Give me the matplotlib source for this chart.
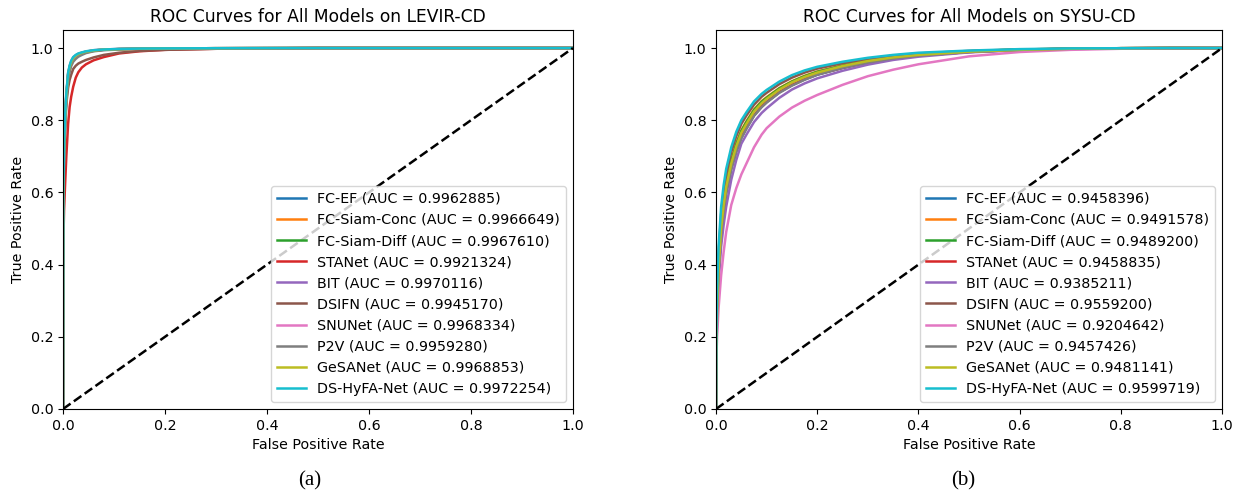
import matplotlib
matplotlib.use("Agg")
import matplotlib.pyplot as plt

plt.rcParams["font.size"] = 10.3

# model names and AUC values read from the legends
models = ["FC-EF", "FC-Siam-Conc", "FC-Siam-Diff", "STANet", "BIT",
          "DSIFN", "SNUNet", "P2V", "GeSANet", "DS-HyFA-Net"]
auc_levir = ["0.9962885", "0.9966649", "0.9967610", "0.9921324", "0.9970116",
             "0.9945170", "0.9968334", "0.9959280", "0.9968853", "0.9972254"]
auc_sysu = ["0.9458396", "0.9491578", "0.9489200", "0.9458835", "0.9385211",
            "0.9559200", "0.9204642", "0.9457426", "0.9481141", "0.9599719"]

# LEVIR-CD curves
fpr_levir = [0, 0.0005, 0.002, 0.004, 0.0065, 0.01, 0.013, 0.016, 0.02, 0.025,
             0.03, 0.037, 0.045, 0.06, 0.08, 0.11, 0.15, 0.2, 0.3, 0.5, 1.0]
tpr_levir = {
    "FC-EF":        [0, 0.58, 0.70, 0.79, 0.860, 0.920, 0.940, 0.955, 0.968, 0.975, 0.980, 0.984, 0.988, 0.992, 0.995, 0.997, 0.998, 0.999, 0.9995, 1.0, 1.0],
    "FC-Siam-Conc": [0, 0.59, 0.71, 0.80, 0.865, 0.925, 0.945, 0.959, 0.971, 0.977, 0.982, 0.986, 0.989, 0.993, 0.9955, 0.997, 0.998, 0.999, 0.9995, 1.0, 1.0],
    "FC-Siam-Diff": [0, 0.59, 0.71, 0.80, 0.867, 0.926, 0.946, 0.960, 0.972, 0.978, 0.982, 0.986, 0.989, 0.993, 0.9955, 0.997, 0.998, 0.999, 0.9995, 1.0, 1.0],
    "STANet":       [0, 0.45, 0.55, 0.62, 0.700, 0.790, 0.837, 0.865, 0.893, 0.918, 0.933, 0.946, 0.955, 0.966, 0.975, 0.985, 0.991, 0.995, 0.998, 1.0, 1.0],
    "BIT":          [0, 0.60, 0.72, 0.81, 0.872, 0.930, 0.950, 0.963, 0.974, 0.980, 0.984, 0.987, 0.990, 0.994, 0.996, 0.9975, 0.9985, 0.999, 0.9995, 1.0, 1.0],
    "DSIFN":        [0, 0.57, 0.69, 0.78, 0.845, 0.890, 0.912, 0.926, 0.942, 0.951, 0.957, 0.962, 0.967, 0.974, 0.981, 0.987, 0.992, 0.995, 0.998, 1.0, 1.0],
    "SNUNet":       [0, 0.59, 0.71, 0.80, 0.868, 0.927, 0.947, 0.960, 0.972, 0.978, 0.983, 0.987, 0.990, 0.993, 0.996, 0.997, 0.998, 0.999, 0.9995, 1.0, 1.0],
    "P2V":          [0, 0.57, 0.69, 0.78, 0.852, 0.912, 0.934, 0.950, 0.962, 0.970, 0.976, 0.981, 0.986, 0.991, 0.994, 0.996, 0.998, 0.999, 0.9995, 1.0, 1.0],
    "GeSANet":      [0, 0.59, 0.71, 0.80, 0.868, 0.928, 0.948, 0.961, 0.972, 0.979, 0.983, 0.987, 0.990, 0.993, 0.996, 0.997, 0.998, 0.999, 0.9995, 1.0, 1.0],
    "DS-HyFA-Net":  [0, 0.60, 0.72, 0.81, 0.875, 0.932, 0.952, 0.965, 0.975, 0.981, 0.985, 0.988, 0.991, 0.994, 0.996, 0.9975, 0.9985, 0.999, 0.9995, 1.0, 1.0],
}

# SYSU-CD curves
fpr_sysu = [0, 0.0005, 0.002, 0.005, 0.01, 0.015, 0.02, 0.03, 0.04, 0.05,
            0.06, 0.075, 0.09, 0.1, 0.125, 0.15, 0.175, 0.2, 0.25, 0.3,
            0.35, 0.4, 0.5, 0.6, 0.7, 0.8, 0.9, 1.0]
tpr_sysu = {
    "FC-EF":        [0, 0.16, 0.27, 0.38, 0.485, 0.550, 0.600, 0.666, 0.715, 0.752, 0.778, 0.813, 0.837, 0.850, 0.877, 0.897, 0.913, 0.926, 0.945, 0.960, 0.971, 0.979, 0.989, 0.995, 0.998, 0.9995, 1.0, 1.0],
    "FC-Siam-Conc": [0, 0.17, 0.285, 0.40, 0.510, 0.575, 0.625, 0.690, 0.737, 0.772, 0.797, 0.830, 0.853, 0.864, 0.889, 0.908, 0.923, 0.935, 0.952, 0.966, 0.975, 0.982, 0.991, 0.996, 0.998, 0.9995, 1.0, 1.0],
    "FC-Siam-Diff": [0, 0.17, 0.28, 0.395, 0.505, 0.570, 0.620, 0.686, 0.733, 0.770, 0.795, 0.828, 0.851, 0.862, 0.888, 0.907, 0.922, 0.934, 0.951, 0.965, 0.975, 0.982, 0.991, 0.996, 0.998, 0.9995, 1.0, 1.0],
    "STANet":       [0, 0.16, 0.27, 0.38, 0.487, 0.552, 0.602, 0.668, 0.716, 0.753, 0.779, 0.814, 0.838, 0.851, 0.878, 0.898, 0.914, 0.927, 0.945, 0.960, 0.971, 0.979, 0.989, 0.995, 0.998, 0.9995, 1.0, 1.0],
    "BIT":          [0, 0.15, 0.25, 0.35, 0.450, 0.510, 0.560, 0.635, 0.690, 0.735, 0.760, 0.795, 0.820, 0.833, 0.862, 0.885, 0.902, 0.916, 0.937, 0.954, 0.967, 0.976, 0.988, 0.994, 0.997, 0.9993, 1.0, 1.0],
    "DSIFN":        [0, 0.19, 0.31, 0.43, 0.540, 0.600, 0.650, 0.712, 0.756, 0.790, 0.813, 0.843, 0.865, 0.876, 0.900, 0.918, 0.932, 0.943, 0.958, 0.970, 0.979, 0.985, 0.992, 0.996, 0.998, 0.9995, 1.0, 1.0],
    "SNUNet":       [0, 0.13, 0.20, 0.28, 0.370, 0.435, 0.490, 0.565, 0.612, 0.650, 0.680, 0.725, 0.760, 0.778, 0.810, 0.835, 0.854, 0.870, 0.898, 0.922, 0.940, 0.955, 0.977, 0.989, 0.995, 0.998, 0.9995, 1.0],
    "P2V":          [0, 0.16, 0.268, 0.378, 0.483, 0.548, 0.598, 0.664, 0.713, 0.750, 0.776, 0.812, 0.836, 0.849, 0.876, 0.896, 0.912, 0.926, 0.945, 0.960, 0.971, 0.979, 0.989, 0.995, 0.998, 0.9995, 1.0, 1.0],
    "GeSANet":      [0, 0.17, 0.275, 0.39, 0.500, 0.565, 0.615, 0.680, 0.728, 0.765, 0.790, 0.824, 0.847, 0.859, 0.885, 0.905, 0.920, 0.932, 0.950, 0.964, 0.974, 0.981, 0.990, 0.995, 0.998, 0.9995, 1.0, 1.0],
    "DS-HyFA-Net":  [0, 0.20, 0.33, 0.45, 0.560, 0.620, 0.665, 0.725, 0.768, 0.800, 0.822, 0.852, 0.873, 0.884, 0.907, 0.925, 0.938, 0.948, 0.962, 0.973, 0.981, 0.987, 0.993, 0.997, 0.999, 0.9995, 1.0, 1.0],
}


def draw_roc(ax, fpr, tprs, aucs, title):
    for name, auc in zip(models, aucs):
        ax.plot(fpr, tprs[name], lw=1.8, label=f"{name} (AUC = {auc})")
    ax.plot([0, 1], [0, 1], "k--", lw=1.8)
    ax.set_xlim(0, 1)
    ax.set_ylim(0, 1.05)
    ax.set_xlabel("False Positive Rate")
    ax.set_ylabel("True Positive Rate")
    ax.set_title(title)
    ax.legend(loc="lower right")


fig = plt.figure(figsize=(12.38, 4.99), dpi=100)
ax1 = fig.add_axes([0.0509, 0.1804, 0.4119, 0.7595])
ax2 = fig.add_axes([0.5784, 0.1804, 0.4087, 0.7595])

draw_roc(ax1, fpr_levir, tpr_levir, auc_levir, "ROC Curves for All Models on LEVIR-CD")
draw_roc(ax2, fpr_sysu, tpr_sysu, auc_sysu, "ROC Curves for All Models on SYSU-CD")

fig.text(0.2505, 0.028, "(a)", ha="center", family="Liberation Serif", fontsize=15)
fig.text(0.7780, 0.028, "(b)", ha="center", family="Liberation Serif", fontsize=15)

fig.savefig("out.png", dpi=100)
